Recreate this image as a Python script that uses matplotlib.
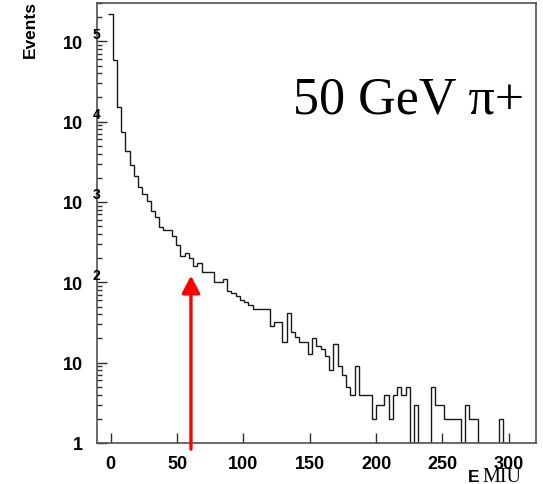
import numpy as np
import matplotlib
matplotlib.use('Agg')
import matplotlib.pyplot as plt
from matplotlib.ticker import FixedLocator, FixedFormatter, LogLocator, NullFormatter

# E_MIU spectrum for 50 GeV pi+, counts per bin
BIN_LO    = -1.8
BIN_WIDTH = 3.2
COUNTS = [
    219800, 58900, 15400, 7400, 4370, 2860, 2090, 1530, 1260, 1020,
    763, 643, 490, 450, 445, 380, 295, 215, 233, 200,
    159, 173, 136, 136, 136, 100, 100, 109, 78, 74,
    68, 61, 57, 52, 47, 47, 47, 47, 29, 32,
    32, 18, 41, 24, 21, 18, 18, 13, 20, 16,
    15, 12, 8, 17, 9, 7, 5, 4, 9, 4,
    4, 4, 2, 3, 3, 4, 2, 4, 5, 4,
    5, 0, 3, 0, 0, 0, 5, 3, 3, 2,
    2, 2, 2, 0, 3, 2, 2, 0, 0, 0,
    0, 0, 2, 0, 0, 0, 0, 0, 0, 0,
]

X_TICKS  = [0, 50, 100, 150, 200, 250, 300]
Y_TICKS  = [1, 10, 1e2, 1e3, 1e4, 1e5]
Y_LABELS = ["1", "10", "10", "10", "10", "10"]
Y_EXPS   = [None, None, "2", "3", "4", "5"]

ARROW_X   = 60.5
ARROW_TIP = 121

TITLE  = "50 GeV \u03c0+"
YLABEL = "Events"

SANS  = "Liberation Sans"
SERIF = "Liberation Serif"


def main():
    counts = np.array(COUNTS, dtype=float)
    edges = BIN_LO + BIN_WIDTH * np.arange(len(counts) + 1)
    # empty bins drop below the axis, like the ROOT drawing
    draw_vals = np.where(counts > 0, counts, 1e-2)

    fig = plt.figure(figsize=(5.43, 4.85), dpi=100)
    ax = fig.add_axes([97 / 543, 41 / 485, 439 / 543, 440 / 485])

    ax.stairs(draw_vals, edges, baseline=None, color="#1a1a1a", lw=1.0)

    ax.set_yscale("log")
    ax.set_xlim(-10.3, 320.5)
    ax.set_ylim(1, 3.0e5)

    for sp in ax.spines.values():
        sp.set_color("#505050")
        sp.set_linewidth(1.2)

    ax.xaxis.set_major_locator(FixedLocator(X_TICKS))
    ax.yaxis.set_major_locator(FixedLocator(Y_TICKS))
    ax.yaxis.set_major_formatter(FixedFormatter(Y_LABELS))
    ax.yaxis.set_minor_locator(LogLocator(base=10, subs=np.arange(2, 10), numticks=20))
    ax.yaxis.set_minor_formatter(NullFormatter())

    ax.tick_params(axis="x", which="major", direction="in", length=7, width=1,
                   color="#303030", pad=9)
    ax.tick_params(axis="y", which="major", direction="in", length=7, width=1,
                   color="#303030", pad=10)
    ax.tick_params(axis="y", which="minor", direction="in", length=3.5, width=1,
                   color="#303030")
    for lab in ax.get_xticklabels() + ax.get_yticklabels():
        lab.set_fontfamily(SANS)
        lab.set_fontweight("bold")
        lab.set_fontsize(13)

    # exponents sit on the axis line, next to the "10"
    for val, ex in zip(Y_TICKS, Y_EXPS):
        if ex is None:
            continue
        ax.annotate(ex, xy=(0, val), xycoords=("axes fraction", "data"),
                    xytext=(-0.5, 5.5), textcoords="offset points",
                    ha="center", va="center", fontsize=10, fontweight="bold",
                    family=SANS, annotation_clip=False)

    # red arrow marking the cut
    ax.annotate("", xy=(ARROW_X, ARROW_TIP), xycoords="data",
                xytext=(ARROW_X, -0.014), textcoords=("data", "axes fraction"),
                arrowprops=dict(arrowstyle="-|>,head_width=0.55,head_length=1.05",
                                color="red", lw=2.4, shrinkA=0, shrinkB=0),
                annotation_clip=False)

    fig.text(30 / 543, 1 - 29 / 485, YLABEL, rotation=90, ha="center", va="center",
             fontsize=12.5, fontweight="bold", family=SANS)
    fig.text(524 / 543, 1 - 114 / 485, TITLE, ha="right", va="baseline",
             fontsize=37.5, family=SERIF)
    fig.text(468 / 543, 1 - 482 / 485, "E", ha="left", va="baseline",
             fontsize=12.5, fontweight="bold", family=SANS)
    fig.text(482 / 543, 1 - 482 / 485, "MIU", ha="left", va="baseline",
             fontsize=14.5, family=SERIF)

    fig.savefig("out.png", dpi=100)
    plt.close(fig)


if __name__ == "__main__":
    main()
